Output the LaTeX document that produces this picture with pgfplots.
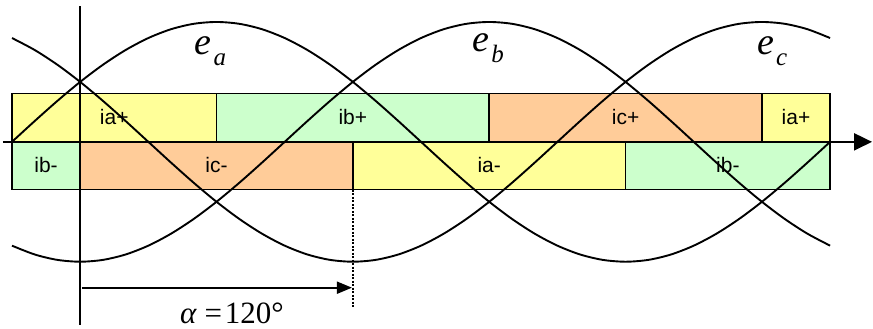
\documentclass[border=0pt]{standalone}
\usepackage{fontspec}
\setmainfont{Liberation Serif}
\newfontfamily\labelfont{Liberation Sans}
\usepackage{pgfplots}
\usepackage{pgfplotstable}
\pgfplotsset{compat=1.18}
\usetikzlibrary{arrows.meta}

\definecolor{cellY}{HTML}{FFFF99}
\definecolor{cellG}{HTML}{CCFFCC}
\definecolor{cellO}{HTML}{FFCC99}

% phase voltages over one period (angle in degrees, per-unit amplitude)
\pgfplotstableread{
x   ea       eb       ec
0   0        -0.8660  0.8660
10  0.1736   -0.9397  0.7660
20  0.3420   -0.9848  0.6428
30  0.5      -1       0.5
40  0.6428   -0.9848  0.3420
50  0.7660   -0.9397  0.1736
60  0.8660   -0.8660  0
70  0.9397   -0.7660  -0.1736
80  0.9848   -0.6428  -0.3420
90  1        -0.5     -0.5
100 0.9848   -0.3420  -0.6428
110 0.9397   -0.1736  -0.7660
120 0.8660   0        -0.8660
130 0.7660   0.1736   -0.9397
140 0.6428   0.3420   -0.9848
150 0.5      0.5      -1
160 0.3420   0.6428   -0.9848
170 0.1736   0.7660   -0.9397
180 0        0.8660   -0.8660
190 -0.1736  0.9397   -0.7660
200 -0.3420  0.9848   -0.6428
210 -0.5     1        -0.5
220 -0.6428  0.9848   -0.3420
230 -0.7660  0.9397   -0.1736
240 -0.8660  0.8660   0
250 -0.9397  0.7660   0.1736
260 -0.9848  0.6428   0.3420
270 -1       0.5      0.5
280 -0.9848  0.3420   0.6428
290 -0.9397  0.1736   0.7660
300 -0.8660  0        0.8660
310 -0.7660  -0.1736  0.9397
320 -0.6428  -0.3420  0.9848
330 -0.5     -0.5     1
340 -0.3420  -0.6428  0.9848
350 -0.1736  -0.7660  0.9397
360 0        -0.8660  0.8660
}\waves

\tikzset{
  cell/.style={anchor=base, inner sep=0pt, font=\labelfont\fontsize{21}{21}\selectfont},
  ename/.style={anchor=base west, inner sep=0pt, font=\fontsize{38}{38}\selectfont\itshape},
  box/.style={draw=black, line width=1.8pt},
}
\newcommand{\esub}[1]{e\hspace{2pt}\raisebox{-11pt}{\fontsize{25}{25}\selectfont #1}}

\begin{document}
\begin{tikzpicture}
\begin{axis}[
  x=2.275pt, y=120pt,
  xmin=-5.2747, xmax=378.46,
  ymin=-1.55833, ymax=1.18333,
  hide axis, clip=false,
]
% overall frame of the drawing
\path (axis cs:-5.2747,-1.55833) rectangle (axis cs:378.46,1.18333);

% conduction intervals, upper row (positive group)
\addplot[box, fill=cellY] coordinates {(0,0) (90,0) (90,0.404) (0,0.404)} -- cycle;
\addplot[box, fill=cellG] coordinates {(90,0) (210,0) (210,0.404) (90,0.404)} -- cycle;
\addplot[box, fill=cellO] coordinates {(210,0) (330,0) (330,0.404) (210,0.404)} -- cycle;
\addplot[box, fill=cellY] coordinates {(330,0) (360,0) (360,0.404) (330,0.404)} -- cycle;
% lower row (negative group)
\addplot[box, fill=cellG] coordinates {(0,0) (30,0) (30,-0.398) (0,-0.398)} -- cycle;
\addplot[box, fill=cellO] coordinates {(30,0) (150,0) (150,-0.398) (30,-0.398)} -- cycle;
\addplot[box, fill=cellY] coordinates {(150,0) (270,0) (270,-0.398) (150,-0.398)} -- cycle;
\addplot[box, fill=cellG] coordinates {(270,0) (360,0) (360,-0.398) (270,-0.398)} -- cycle;

% interval labels
\node[cell] at (axis cs:45,0.1417) {ia+};
\node[cell] at (axis cs:150,0.1417) {ib+};
\node[cell] at (axis cs:270,0.1417) {ic+};
\node[cell] at (axis cs:345,0.1417) {ia+};
\node[cell] at (axis cs:15,-0.2583) {ib-};
\node[cell] at (axis cs:90,-0.2583) {ic-};
\node[cell] at (axis cs:210,-0.2583) {ia-};
\node[cell] at (axis cs:315,-0.2583) {ib-};

% phase voltages
\addplot[smooth, line width=1.9pt, black] table[x=x, y=ea] {\waves};
\addplot[smooth, line width=1.9pt, black] table[x=x, y=eb] {\waves};
\addplot[smooth, line width=1.9pt, black] table[x=x, y=ec] {\waves};

% angle axis and firing reference
\draw[line width=1.9pt, -{Triangle[length=18pt,width=17pt]}] (axis cs:-3.956,0) -- (axis cs:378.46,0);
\draw[line width=1.8pt] (axis cs:30,1.133) -- (axis cs:30,-1.525);
\draw[line width=2pt, dash pattern=on 2.2pt off 1.3pt] (axis cs:150,-0.4) -- (axis cs:150,-1.383);
\draw[line width=1.8pt, -{Triangle[length=15pt,width=12pt]}] (axis cs:30.8,-1.2167) -- (axis cs:149.6,-1.2167);

% phase names
\node[ename] at (axis cs:80.4,0.725) {\esub{a}};
\node[ename] at (axis cs:202.6,0.75) {\esub{b}};
\node[ename] at (axis cs:327.9,0.725) {\esub{c}};

% firing angle
\node[anchor=base west, inner sep=0pt] at (axis cs:73.85,-1.5167)
  {\fontsize{31}{31}\selectfont\textit{α} =\hspace{3pt}120°};
\end{axis}
\end{tikzpicture}
\end{document}
